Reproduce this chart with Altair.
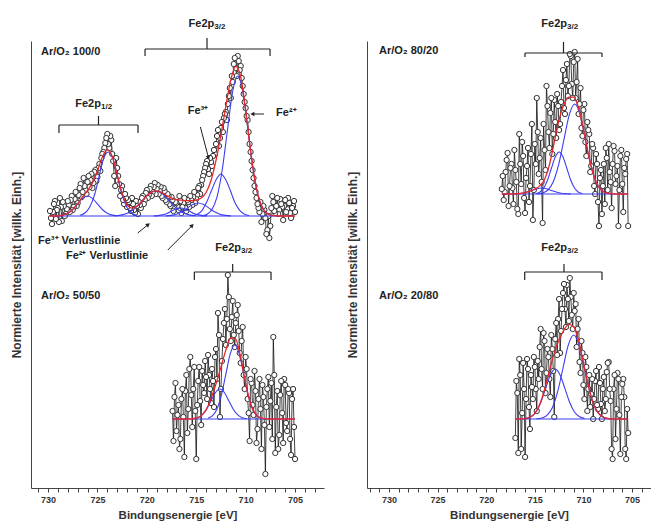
import altair as alt
import pandas as pd

FONT = "Liberation Sans"
INK = "#222222"
BLUE = "#3d3df2"
RED = "#e8262a"

# ---------------- measured spectra: binding energy [eV] / intensity above own baseline ----------------
# Ar/O2 100/0 (even channels)
E_100 = [729.8, 729.6, 729.4, 729.2, 729.0, 728.8, 728.6, 728.4, 728.2, 728.0,
         727.8, 727.6, 727.4, 727.2, 727.0, 726.8, 726.6, 726.4, 726.2, 726.0,
         725.8, 725.6, 725.4, 725.2, 725.0, 724.8, 724.6, 724.4, 724.2, 724.0,
         723.8, 723.6, 723.4, 723.2, 723.0, 722.8, 722.6, 722.4, 722.2, 722.0,
         721.8, 721.6, 721.4, 721.2, 721.0, 720.8, 720.6, 720.4, 720.2, 720.0,
         719.8, 719.6, 719.4, 719.2, 719.0, 718.8, 718.6, 718.4, 718.2, 718.0,
         717.8, 717.6, 717.4, 717.2, 717.0, 716.8, 716.6, 716.4, 716.2, 716.0,
         715.8, 715.6, 715.4, 715.2, 715.0, 714.8, 714.6, 714.4, 714.2, 714.0,
         713.8, 713.6, 713.4, 713.2, 713.0, 712.8, 712.6, 712.4, 712.2, 712.0,
         711.8, 711.6, 711.4, 711.2, 711.0, 710.8, 710.6, 710.4, 710.2, 710.0,
         709.8, 709.6, 709.4, 709.2, 709.0, 708.8, 708.6, 708.4, 708.2, 708.0,
         707.8, 707.6, 707.4, 707.2, 707.0, 706.8, 706.6, 706.4, 706.2, 706.0,
         705.8, 705.6, 705.4, 705.2, 705.0]
I_100 = [5, -8, 12, -3, 8, 18, -5, 10, 2, 15,
         4, 20, 9, 24, 13, 28, 19, 38, 26, 34,
         29, 42, 33, 46, 39, 52, 58, 64, 73, 82,
         68, 76, 55, 30, 48, 32, 26, 16, 22, 9,
         14, 5, 12, 3, 10, 14, 8, 20, 16, 26,
         21, 30, 24, 33, 27, 22, 29, 18, 25, 14,
         20, 10, 16, 8, 13, 6, 15, 9, 18, 5,
         14, 20, 11, 24, 17, 28, 22, 36, 44, 52,
         47, 58, 50, 66, 72, 86, 78, 94, 98, 104,
         112, 128, 140, 152, 148, 160, 146, 138, 122, 108,
         96, 72, 55, 38, 24, 12, 4, -6, 10, -2,
         -14, -22, 8, 14, 3, 18, 6, 12, -4, 16,
         7, 13, -2, 10, 4]
# Ar/O2 100/0 (odd channels)
E_100b = [729.7, 729.5, 729.3, 729.1, 728.9, 728.7, 728.5, 728.3, 728.1, 727.9,
          727.7, 727.5, 727.3, 727.1, 726.9, 726.7, 726.5, 726.3, 726.1, 725.9,
          725.7, 725.5, 725.3, 725.1, 724.9, 724.7, 724.5, 724.3, 724.1, 723.9,
          723.7, 723.5, 723.3, 723.1, 722.9, 722.7, 722.5, 722.3, 722.1, 721.9,
          721.7, 721.5, 721.3, 721.1, 720.9, 720.7, 720.5, 720.3, 720.1, 719.9,
          719.7, 719.5, 719.3, 719.1, 718.9, 718.7, 718.5, 718.3, 718.1, 717.9,
          717.7, 717.5, 717.3, 717.1, 716.9, 716.7, 716.5, 716.3, 716.1, 715.9,
          715.7, 715.5, 715.3, 715.1, 714.9, 714.7, 714.5, 714.3, 714.1, 713.9,
          713.7, 713.5, 713.3, 713.1, 712.9, 712.7, 712.5, 712.3, 712.1, 711.9,
          711.7, 711.5, 711.3, 711.1, 710.9, 710.7, 710.5, 710.3, 710.1, 709.9,
          709.7, 709.5, 709.3, 709.1, 708.9, 708.7, 708.5, 708.3, 708.1, 707.9,
          707.7, 707.5, 707.3, 707.1, 706.9, 706.7, 706.5, 706.3, 706.1, 705.9,
          705.7, 705.5, 705.3, 705.1]
I_100b = [-2, 4, 15, 6, -6, 9, 14, 0, 7, 11,
          16, 6, 17, 10, 21, 32, 24, 30, 22, 40,
          36, 28, 44, 35, 48, 45, 62, 68, 78, 72,
          80, 62, 40, 58, 40, 20, 30, 12, 18, 16,
          8, 18, 6, 15, 2, 11, 18, 12, 23, 18,
          27, 20, 29, 22, 31, 25, 20, 28, 16, 22,
          12, 19, 5, 14, 10, 20, 3, 13, 8, 16,
          9, 16, 19, 13, 21, 30, 31, 40, 48, 55,
          42, 54, 60, 62, 80, 70, 88, 84, 102, 96,
          120, 118, 134, 158, 140, 155, 150, 130, 114, 100,
          84, 64, 46, 30, 18, 8, 14, 2, 6, -18,
          0, -10, 20, 5, 10, 2, 17, 9, 10, 4,
          18, 3, 8, 15]

# Ar/O2 50/50
E_50 = [717.4, 717.2, 717.0, 716.8, 716.6, 716.4, 716.2, 716.0, 715.8, 715.6,
        715.4, 715.2, 715.0, 714.8, 714.6, 714.4, 714.2, 714.0, 713.8, 713.6,
        713.4, 713.2, 713.0, 712.8, 712.6, 712.4, 712.2, 712.0, 711.8, 711.6,
        711.4, 711.2, 711.0, 710.8, 710.6, 710.4, 710.2, 710.0, 709.8, 709.6,
        709.4, 709.2, 709.0, 708.8, 708.6, 708.4, 708.2, 708.0, 707.8, 707.6,
        707.4, 707.2, 707.0, 706.8, 706.6, 706.4, 706.2, 706.0, 705.8, 705.6,
        705.4, 705.2, 705.0]
I_50 = [8, 22, -12, 14, -20, 30, -38, 44, 10, 62,
        -8, 52, -40, 38, 18, 48, 26, 42, 64, 30,
        50, 12, 70, 106, 2, 58, 96, 74, 144, 90,
        102, 84, 96, 114, 66, 78, 44, 62, 20, -22,
        36, 4, 28, -10, 40, -30, 22, -55, 30, -8,
        36, 82, -34, 28, -16, 38, -24, 34, -12, 26,
        -36, 30, -40]
E_50b = [717.3, 717.1, 716.9, 716.7, 716.5, 716.3, 716.1, 715.9, 715.7, 715.5,
         715.3, 715.1, 714.9, 714.7, 714.5, 714.3, 714.1, 713.9, 713.7, 713.5,
         713.3, 713.1, 712.9, 712.7, 712.5, 712.3, 712.1, 711.9, 711.7, 711.5,
         711.3, 711.1, 710.9, 710.7, 710.5, 710.3, 710.1, 709.9, 709.7, 709.5,
         709.3, 709.1, 708.9, 708.7, 708.5, 708.3, 708.1, 707.9, 707.7, 707.5,
         707.3, 707.1, 706.9, 706.7, 706.5, 706.3, 706.1, 705.9, 705.7, 705.5,
         705.3, 705.1]
I_50b = [-22, 36, 4, -30, 20, 2, 28, -14, 50, 24,
         30, 8, 14, 52, -6, 34, 58, 20, 44, 16,
         38, 62, 40, 84, 30, 80, 110, 100, 122, 78,
         118, 72, 104, 88, 56, 92, 30, 50, 6, 40,
         14, 48, -24, 20, 10, 34, -6, 12, 42, 18,
         -20, 44, 12, -30, 24, 6, 40, -4, 30, -20,
         20, -8]

# Ar/O2 80/20
E_80 = [718.4, 718.2, 718.0, 717.8, 717.6, 717.4, 717.2, 717.0, 716.8, 716.6,
        716.4, 716.2, 716.0, 715.8, 715.6, 715.4, 715.2, 715.0, 714.8, 714.6,
        714.4, 714.2, 714.0, 713.8, 713.6, 713.4, 713.2, 713.0, 712.8, 712.6,
        712.4, 712.2, 712.0, 711.8, 711.6, 711.4, 711.2, 711.0, 710.8, 710.6,
        710.4, 710.2, 710.0, 709.8, 709.6, 709.4, 709.2, 709.0, 708.8, 708.6,
        708.4, 708.2, 708.0, 707.8, 707.6, 707.4, 707.2, 707.0, 706.8, 706.6,
        706.4, 706.2, 706.0, 705.8, 705.6, 705.4]
I_80 = [5, -6, 22, 41, 8, 30, -10, 24, -15, 60,
        10, 38, -19, 28, -8, 40, -26, 50, 96, 20,
        56, -29, 44, 108, 62, 81, 40, 94, 56, 88,
        70, 108, 86, 114, 98, 140, 110, 132, 96, 135,
        90, 66, 84, 52, 72, 60, 28, 46, 0, 30,
        -32, 24, 8, -10, 36, 50, 12, 30, 43, 18,
        -32, 38, 10, 26, 35, -32]
E_80b = [718.3, 718.1, 717.9, 717.7, 717.5, 717.3, 717.1, 716.9, 716.7, 716.5,
         716.3, 716.1, 715.9, 715.7, 715.5, 715.3, 715.1, 714.9, 714.7, 714.5,
         714.3, 714.1, 713.9, 713.7, 713.5, 713.3, 713.1, 712.9, 712.7, 712.5,
         712.3, 712.1, 711.9, 711.7, 711.5, 711.3, 711.1, 710.9, 710.7, 710.5,
         710.3, 710.1, 709.9, 709.7, 709.5, 709.3, 709.1, 708.9, 708.7, 708.5,
         708.3, 708.1, 707.9, 707.7, 707.5, 707.3, 707.1, 706.9, 706.7, 706.5,
         706.3, 706.1, 705.9, 705.7, 705.5]
I_80b = [18, 2, 34, -12, 26, 6, 44, 12, -20, 30,
         52, -4, 16, 46, 8, 70, 4, 30, 62, 36,
         12, 70, 24, 88, 46, 96, 60, 72, 100, 64,
         92, 124, 80, 130, 108, 138, 96, 142, 112, 80,
         106, 58, 90, 38, 64, 22, 50, 8, 40, -8,
         16, -20, 30, 46, 4, 22, -14, 48, 10, 28,
         4, 44, -18, 20, 40]

# Ar/O2 20/80
E_20 = [717.0, 716.8, 716.6, 716.4, 716.2, 716.0, 715.8, 715.6, 715.4, 715.2,
        715.0, 714.8, 714.6, 714.4, 714.2, 714.0, 713.8, 713.6, 713.4, 713.2,
        713.0, 712.8, 712.6, 712.4, 712.2, 712.0, 711.8, 711.6, 711.4, 711.2,
        711.0, 710.8, 710.6, 710.4, 710.2, 710.0, 709.8, 709.6, 709.4, 709.2,
        709.0, 708.8, 708.6, 708.4, 708.2, 708.0, 707.8, 707.6, 707.4, 707.2,
        707.0, 706.8, 706.6, 706.4, 706.2, 706.0, 705.8, 705.6, 705.4]
I_20 = [-19, 26, 60, -30, 56, -38, 60, 12, 44, 20,
        52, 8, 40, 90, 30, 78, 46, 62, 22, 70,
        2, 96, 100, 66, 110, 135, 92, 120, 141, 104,
        126, 115, 90, 57, 78, 34, 62, 8, 44, 25,
        0, 38, 14, 52, 15, 30, 8, 47, 57, 18,
        -40, 44, 10, 40, -35, 35, 22, -40, -14]
E_20b = [716.9, 716.7, 716.5, 716.3, 716.1, 715.9, 715.7, 715.5, 715.3, 715.1,
         714.9, 714.7, 714.5, 714.3, 714.1, 713.9, 713.7, 713.5, 713.3, 713.1,
         712.9, 712.7, 712.5, 712.3, 712.1, 711.9, 711.7, 711.5, 711.3, 711.1,
         710.9, 710.7, 710.5, 710.3, 710.1, 709.9, 709.7, 709.5, 709.3, 709.1,
         708.9, 708.7, 708.5, 708.3, 708.1, 707.9, 707.7, 707.5, 707.3, 707.1,
         706.9, 706.7, 706.5, 706.3, 706.1, 705.9, 705.7, 705.5]
I_20b = [38, -34, 44, 6, 30, 20, 50, -10, 32, 62,
         30, 58, 72, 50, 86, 26, 70, 40, 84, 48,
         80, 64, 120, 88, 126, 110, 134, 98, 122, 90,
         108, 72, 100, 46, 66, 20, 52, 30, 12, 40,
         20, 48, 10, 36, 0, 42, 20, 56, 30, -30,
         30, -20, 46, 4, 22, 40, -30, 10]

# ---------------- fitted envelopes (red) ----------------
FIT_E_100 = [729.8, 729.5, 729.0, 728.5, 728.0, 727.5, 727.0, 726.5, 726.0, 725.5,
             725.0, 724.5, 724.0, 723.5, 723.0, 722.5, 722.0, 721.5, 721.0, 720.5,
             720.0, 719.5, 719.0, 718.5, 718.0, 717.5, 717.0, 716.5, 716.0, 715.5,
             715.0, 714.5, 714.0, 713.5, 713.0, 712.5, 712.0, 711.5, 711.0, 710.5,
             710.0, 709.5, 709.0, 708.5, 708.0, 707.5, 707.0, 706.0, 705.0]
FIT_I_100 = [0, 0, 0.2, 0.9, 2.7, 6.5, 12.4, 19.1, 25.6, 33.1,
             44.9, 58.9, 66.3, 59.5, 41.5, 22.6, 11.1, 7.8, 9.9, 14.7,
             20.0, 23.9, 25.1, 23.5, 20.5, 17.9, 16.4, 15.8, 15.4, 15.4,
             16.0, 17.9, 23.5, 35.7, 55.6, 81.2, 110.0, 136.3, 149.6, 139.0,
             106.0, 65.4, 32.2, 12.7, 4.0, 1.0, 0.2, 0, 0]

FIT_E_50 = [717.4, 716.0, 715.5, 715.0, 714.5, 714.0, 713.5, 713.0, 712.5, 712.0,
            711.5, 711.0, 710.5, 710.0, 709.5, 709.0, 708.5, 708.0, 707.5, 705.0]
FIT_I_50 = [0, 0, 0.2, 0.9, 3.2, 9.3, 20.3, 35.2, 51.9, 68.9,
            81.2, 79.7, 61.3, 35.6, 15.3, 4.9, 1.1, 0.2, 0, 0]

FIT_E_80 = [718.4, 718.0, 717.5, 717.0, 716.5, 716.0, 715.5, 715.0, 714.5, 714.0,
            713.5, 713.0, 712.5, 712.0, 711.5, 711.0, 710.5, 710.0, 709.5, 709.0,
            708.5, 708.0, 707.5, 707.0, 706.5, 705.4]
FIT_I_80 = [0, 0, 0, 0.2, 0.5, 1.4, 2.9, 5.0, 8.1, 14.6,
            29.1, 51.8, 74.4, 89.6, 96.9, 96.8, 86.0, 64.7, 40.0, 20.3,
            8.3, 2.8, 0.8, 0.2, 0, 0]

FIT_E_20 = [717.0, 716.5, 716.0, 715.5, 715.0, 714.5, 714.0, 713.5, 713.0, 712.5,
            712.0, 711.5, 711.0, 710.5, 710.0, 709.5, 709.0, 708.5, 708.0, 707.5,
            707.0, 706.5, 705.4]
FIT_I_20 = [0, 0.1, 0.4, 1.7, 5.6, 14.4, 29.3, 48.2, 65.9, 79.4,
            89.0, 94.6, 92.2, 78.6, 56.3, 33.4, 16.1, 6.4, 2.0, 0.5,
            0.1, 0, 0]

# ---------------- fitted components (blue) ----------------
COMP_100 = {
    "Fe3+ 2p1/2": ([729.0, 728.5, 728.0, 727.5, 727.0, 726.5, 726.0, 725.5, 725.0, 724.5, 724.0, 723.5, 723.0],
                   [0.2, 0.9, 2.7, 6.5, 12.1, 17.6, 20, 17.6, 12.1, 6.5, 2.7, 0.9, 0.2]),
    "Fe2+ 2p1/2": ([726.75, 726.3, 725.8, 725.3, 724.85, 724.4, 723.9, 723.4, 722.95, 722.5, 722.0, 721.5, 721.05],
                   [0.7, 2.8, 8.6, 20.8, 38.8, 56.4, 64, 56.4, 38.8, 20.8, 8.6, 2.8, 0.7]),
    "Fe3+ sat": ([723.15, 722.5, 721.8, 721.15, 720.45, 719.8, 719.1, 718.4, 717.75, 717.05, 716.4, 715.7, 715.05],
                 [0.3, 1.1, 3.4, 8.1, 15.2, 22.1, 25, 22.1, 15.2, 8.1, 3.4, 1.1, 0.3]),
    "Fe2+ sat": ([719.3, 718.85, 718.4, 717.95, 717.5, 717.05, 716.6, 716.15, 715.7, 715.25, 714.8, 714.35, 713.9],
                 [0.1, 0.4, 1.1, 2.6, 4.9, 7.1, 8, 7.1, 4.9, 2.6, 1.1, 0.4, 0.1]),
    "Fe sat b": ([718.1, 717.55, 717.0, 716.45, 715.9, 715.35, 714.8, 714.25, 713.7, 713.15, 712.6, 712.05, 711.5],
                 [0.1, 0.6, 1.8, 4.2, 7.9, 11.5, 13, 11.5, 7.9, 4.2, 1.8, 0.6, 0.1]),
    "Fe3+ 2p3/2": ([715.35, 714.9, 714.4, 713.95, 713.45, 712.95, 712.5, 712.05, 711.55, 711.1, 710.6, 710.1, 709.65],
                   [0.5, 1.8, 5.7, 13.7, 25.5, 37.0, 42, 37.0, 25.5, 13.7, 5.7, 1.8, 0.5]),
    "Fe2+ 2p3/2": ([714.5, 713.95, 713.43, 712.9, 712.38, 711.85, 711.33, 710.8, 710.28, 709.75, 709.23, 708.7, 708.18, 707.65, 707.1],
                   [0, 1.5, 6.2, 18.9, 45.5, 85.0, 123.5, 140, 123.5, 85.0, 45.5, 18.9, 6.2, 1.5, 0]),
}
COMP_50 = {
    "Fe3+ 2p3/2": ([715.3, 714.85, 714.4, 713.95, 713.5, 713.05, 712.6, 712.15, 711.7, 711.25, 710.8, 710.35, 709.9],
                   [0.3, 1.3, 4.1, 9.8, 18.2, 26.5, 30, 26.5, 18.2, 9.8, 4.1, 1.3, 0.3]),
    "Fe2+ 2p3/2": ([713.8, 713.35, 712.9, 712.45, 712.0, 711.55, 711.1, 710.65, 710.2, 709.75, 709.3, 708.85, 708.4],
                   [0.8, 3.3, 10.0, 24.1, 44.9, 65.3, 74, 65.3, 44.9, 24.1, 10.0, 3.3, 0.8]),
}
COMP_80 = {
    "sat": ([717.3, 716.8, 716.3, 715.8, 715.3, 714.8, 714.3, 713.8, 713.3, 712.8, 712.3, 711.8, 711.3],
            [0.1, 0.3, 0.8, 2.0, 3.6, 5.3, 6.0, 5.3, 3.6, 2.0, 0.8, 0.3, 0.1]),
    "Fe3+ 2p3/2": ([714.9, 714.5, 714.1, 713.7, 713.3, 712.9, 712.5, 712.1, 711.7, 711.3, 710.9, 710.5, 710.1],
                   [0.5, 1.8, 5.7, 13.7, 25.5, 37.0, 42, 37.0, 25.5, 13.7, 5.7, 1.8, 0.5]),
    "Fe2+ 2p3/2": ([714.75, 714.2, 713.65, 713.1, 712.55, 712.0, 711.45, 710.9, 710.35, 709.8, 709.25, 708.7, 708.15, 707.6, 707.05],
                   [0, 1.0, 4.0, 12.2, 29.3, 54.6, 79.4, 90, 79.4, 54.6, 29.3, 12.2, 4.0, 1.0, 0]),
}
COMP_20 = {
    "Fe3+ 2p3/2": ([715.9, 715.4, 714.9, 714.4, 713.9, 713.4, 712.9, 712.4, 711.9, 711.4, 710.9, 710.4, 709.9],
                   [0.6, 2.2, 6.8, 16.3, 30.4, 44.1, 50, 44.1, 30.4, 16.3, 6.8, 2.2, 0.6]),
    "Fe2+ 2p3/2": ([714.85, 714.3, 713.75, 713.2, 712.65, 712.1, 711.55, 711.0, 710.45, 709.9, 709.35, 708.8, 708.25, 707.7, 707.15],
                   [0, 0.9, 3.7, 11.3, 27.3, 51.0, 74.1, 84, 74.1, 51.0, 27.3, 11.3, 3.7, 0.9, 0]),
}

# vertical offsets of the stacked spectra (same arbitrary intensity units)
OFFSET = {"100/0": 272, "50/50": 69, "80/20": 294, "20/80": 69}

SPEC = {
    "100/0": (E_100 + E_100b, I_100 + I_100b, FIT_E_100, FIT_I_100, COMP_100),
    "50/50": (E_50 + E_50b, I_50 + I_50b, FIT_E_50, FIT_I_50, COMP_50),
    "80/20": (E_80 + E_80b, I_80 + I_80b, FIT_E_80, FIT_I_80, COMP_80),
    "20/80": (E_20 + E_20b, I_20 + I_20b, FIT_E_20, FIT_I_20, COMP_20),
}

# ---------------- annotations ----------------
LEFT_ANN = dict(
    text=["Ar/O₂ 100/0", "Ar/O₂ 50/50", "Fe³⁺ Verlustlinie", "Fe²⁺ Verlustlinie", "Fe²⁺"],
    text_e=[730.71, 730.71, 731.01, 728.18, 706.92],
    text_y=[436, 192, 247, 232, 375],
    ctext=["Fe³⁺"], ctext_e=[714.82], ctext_y=[377],
    peak_sub=["3/2", "1/2", "3/2"], peak_e=[713.17, 724.64, 710.47], peak_y=[464, 384, 240],
    br_left=[720.18, 728.89, 715.19], br_right=[707.53, 720.89, 707.43], br_mid=[713.91, 724.89, 711.31],
    br_bar=[439, 363, 216], br_end=[432, 355, 208], br_top=[450, 372, 224],
    ar_from_e=[714.58, 708.14, 720.92, 717.88], ar_from_y=[361, 374, 255, 238],
    ar_to_e=[713.78, 709.25, 719.91, 715.46], ar_to_y=[331, 374, 263, 262],
    ar_angle=[165, 270, 52, 45],
)
RIGHT_ANN = dict(
    text=["Ar/O₂ 80/20", "Ar/O₂ 20/80"],
    text_e=[731.03, 731.03],
    text_y=[437, 192],
    ctext=[], ctext_e=[], ctext_y=[],
    peak_sub=["3/2", "3/2"], peak_e=[711.69, 711.69], peak_y=[464, 240],
    br_left=[716.01, 716.04], br_right=[708.09, 708.09], br_mid=[712.05, 712.0],
    br_bar=[435, 216], br_end=[431, 208], br_top=[446, 224],
    ar_from_e=[], ar_from_y=[], ar_to_e=[], ar_to_y=[], ar_angle=[],
)


def frames(keys):
    pts, fits, comps = [], [], []
    for k in keys:
        E, I, fE, fI, cmp = SPEC[k]
        off = OFFSET[k]
        pts.append(pd.DataFrame({"E": E, "y": [v + off for v in I], "s": k}).sort_values("E"))
        fits.append(pd.DataFrame({"E": fE, "y": [v + off for v in fI], "s": k}))
        comps.append(pd.DataFrame({"E": [max(E), min(E)], "y": [off, off], "c": k + " baseline"}))
        for name, (cE, cI) in cmp.items():
            comps.append(pd.DataFrame({"E": cE, "y": [v + off for v in cI], "c": k + " " + name}))
    return pd.concat(pts), pd.concat(fits), pd.concat(comps)


def column(keys, ann, xdom, ticks, width):
    pts, fits, comps = frames(keys)
    xs = alt.Scale(domain=xdom, reverse=True, nice=False, zero=False)
    ys = alt.Scale(domain=[0, 447], nice=False, zero=False)
    xax = alt.Axis(values=ticks, labelExpr="datum.value % 5 === 0 ? datum.label : ''",
                   tickSize=4, tickColor="#444", domainColor="#444", grid=False,
                   labelFont=FONT, labelFontWeight="bold", labelFontSize=9, labelColor="#333",
                   labelPadding=3, labelOverlap=False, labelFlush=False,
                   titleFont=FONT, titleFontWeight="bold", titleFontSize=11.5, titleColor="#333",
                   titlePadding=5)
    yax = alt.Axis(labels=False, ticks=False, grid=False, domainColor="#444",
                   titleFont=FONT, titleFontWeight="bold", titleFontSize=12, titleColor="#333",
                   titlePadding=8)

    def X(f="E"):
        return alt.X(f"{f}:Q", scale=xs, axis=xax, title="Bindungsenergie [eV]")

    def Y(f="y"):
        return alt.Y(f"{f}:Q", scale=ys, axis=yax, title="Normierte Intensität [willk. Einh.]")

    layers = []
    base_pts = alt.Chart(pts)
    layers.append(base_pts.mark_line(color="#111", strokeWidth=0.8).encode(x=X(), y=Y(), detail="s:N"))
    layers.append(base_pts.mark_point(shape="circle", filled=True, color="white", stroke="#333",
                                      strokeWidth=1, size=28, opacity=1).encode(x=X(), y=Y()))
    layers.append(alt.Chart(comps).mark_line(color=BLUE, strokeWidth=1.1, interpolate="monotone")
                  .encode(x=X(), y=Y(), detail="c:N"))
    layers.append(alt.Chart(fits).mark_line(color=RED, strokeWidth=1.3, interpolate="monotone")
                  .encode(x=X(), y=Y(), detail="s:N"))

    # brackets
    seg = {"E": [], "E2": [], "y": [], "y2": []}
    for l, r, m, b, e, t in zip(ann["br_left"], ann["br_right"], ann["br_mid"],
                                ann["br_bar"], ann["br_end"], ann["br_top"]):
        for a in [(l, l, e, b), (l, r, b, b), (r, r, e, b), (m, m, b, t)]:
            seg["E"].append(a[0]); seg["E2"].append(a[1]); seg["y"].append(a[2]); seg["y2"].append(a[3])
    layers.append(alt.Chart(pd.DataFrame(seg)).mark_rule(color=INK, strokeWidth=1.2)
                  .encode(x=X(), x2="E2:Q", y=Y(), y2="y2:Q"))

    # arrows
    if ann["ar_angle"]:
        ar = pd.DataFrame({"E": ann["ar_from_e"], "E2": ann["ar_to_e"],
                           "y": ann["ar_from_y"], "y2": ann["ar_to_y"]})
        layers.append(alt.Chart(ar).mark_rule(color=INK, strokeWidth=1)
                      .encode(x=X(), x2="E2:Q", y=Y(), y2="y2:Q"))
        heads = pd.DataFrame({"E": ann["ar_to_e"], "y": ann["ar_to_y"], "a": ann["ar_angle"]})
        layers.append(alt.Chart(heads).mark_point(shape="triangle", filled=True, color=INK, size=22, opacity=1)
                      .encode(x=X(), y=Y(), angle=alt.Angle("a:Q", scale=None)))

    # texts
    txt = pd.DataFrame({"E": ann["text_e"], "y": ann["text_y"], "t": ann["text"]})
    layers.append(alt.Chart(txt).mark_text(align="left", baseline="middle", font=FONT, fontWeight="bold",
                                           fontSize=11, color=INK)
                  .encode(x=X(), y=Y(), text="t:N"))
    if ann["ctext"]:
        ctx = pd.DataFrame({"E": ann["ctext_e"], "y": ann["ctext_y"], "t": ann["ctext"]})
        layers.append(alt.Chart(ctx).mark_text(align="center", baseline="middle", font=FONT, fontWeight="bold",
                                               fontSize=11, color=INK)
                      .encode(x=X(), y=Y(), text="t:N"))
    pk = pd.DataFrame({"E": ann["peak_e"], "y": ann["peak_y"], "sub": ann["peak_sub"],
                       "main": ["Fe2p"] * len(ann["peak_e"])})
    layers.append(alt.Chart(pk).mark_text(align="right", baseline="middle", font=FONT, fontWeight="bold",
                                          fontSize=11, color=INK)
                  .encode(x=X(), y=Y(), text="main:N"))
    layers.append(alt.Chart(pk).mark_text(align="left", baseline="middle", font=FONT, fontWeight="bold",
                                          fontSize=8, color=INK, dy=3)
                  .encode(x=X(), y=Y(), text="sub:N"))

    return alt.layer(*layers).properties(width=width, height=447)


left = column(["100/0", "50/50"], LEFT_ANN, [702.07, 731.72], list(range(703, 732)), 293)
right = column(["80/20", "20/80"], RIGHT_ANN, [703.05, 732.26], list(range(704, 733)), 284)

chart = (alt.hconcat(left, right, spacing=22)
         .properties(padding={"left": 2, "top": 10, "right": 0, "bottom": 0})
         .configure_view(strokeWidth=0))

chart.save("out.html", embed_options={"renderer": "svg", "actions": False})
